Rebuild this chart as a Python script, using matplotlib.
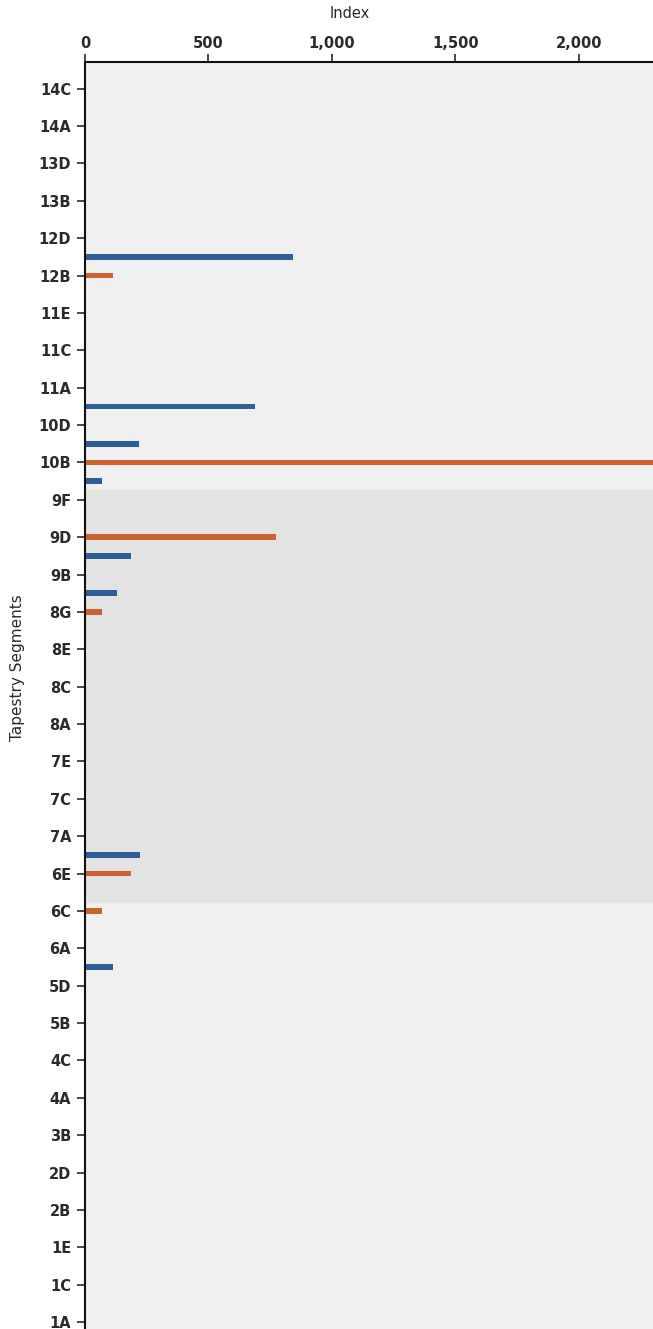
import matplotlib
matplotlib.use("Agg")
import matplotlib.pyplot as plt
from matplotlib.ticker import FuncFormatter, MultipleLocator

# Tapestry segments, bottom to top
segments = [
    "1A", "1B", "1C", "1D", "1E",
    "2A", "2B", "2C", "2D",
    "3A", "3B", "3C",
    "4A", "4B", "4C",
    "5A", "5B", "5C", "5D", "5E",
    "6A", "6B", "6C", "6D", "6E", "6F",
    "7A", "7B", "7C", "7D", "7E", "7F",
    "8A", "8B", "8C", "8D", "8E", "8F", "8G",
    "9A", "9B", "9C", "9D", "9E", "9F",
    "10A", "10B", "10C", "10D", "10E",
    "11A", "11B", "11C", "11D", "11E",
    "12A", "12B", "12C", "12D",
    "13A", "13B", "13C", "13D", "13E",
    "14A", "14B", "14C",
]

# Index values per segment for the two series
blue_index = {"12C": 842, "10E": 689, "10C": 220, "10A": 67,
              "9C": 186, "9A": 128, "6F": 222, "5E": 113}
orange_index = {"12B": 112, "10B": 2400, "9D": 774, "8G": 67,
                "6E": 186, "6C": 69}

# Highlighted span of segments
band_start, band_end = "6D", "9F"

x_max = 2300
blue_color = "#2c5e98"
orange_color = "#cd6230"
text_color = "#2a2a2a"

W, H = 653, 1329
fig = plt.figure(figsize=(W / 100, H / 100), dpi=100)
left_px, top_px = 85, 62
cat_px = 18.69
y_top_cat = 88.6  # pixel row of the top segment
ax = fig.add_axes([left_px / W, 0, 1 - left_px / W, 1 - top_px / H])

pos = {s: i for i, s in enumerate(segments)}
n = len(segments)
ytop = (n - 1) + (y_top_cat - top_px) / cat_px
ybot = (n - 1) - (H - y_top_cat) / cat_px

ax.set_facecolor("#efefef")
ax.axhspan(pos[band_start] - 0.5, pos[band_end] + 0.5, color="#e3e3e3", zorder=0)

bar_h = 0.3
ax.barh([pos[s] for s in blue_index], list(blue_index.values()),
        height=bar_h, color=blue_color, zorder=2)
ax.barh([pos[s] for s in orange_index], list(orange_index.values()),
        height=bar_h, color=orange_color, zorder=2)

ax.set_xlim(0, x_max)
ax.set_ylim(ybot, ytop)

ax.xaxis.tick_top()
ax.xaxis.set_major_locator(MultipleLocator(500))
ax.xaxis.set_major_formatter(FuncFormatter(lambda v, p: f"{int(v):,}"))

ax.set_yticks(range(0, n, 2))
ax.set_yticklabels(segments[0::2])

ax.tick_params(axis="x", length=6, width=1.2, colors=text_color, labelsize=10.5, pad=2)
ax.tick_params(axis="y", length=6, width=1.2, colors=text_color, labelsize=10.5, pad=4)
for lab in ax.get_xticklabels() + ax.get_yticklabels():
    lab.set_fontweight("bold")

# Axis titles
fig.text(350 / W, 1 - 14 / H, "Index", ha="center", va="center",
         fontsize=10.5, color=text_color)
fig.text(18 / W, 1 - 668 / H, "Tapestry Segments", ha="center", va="center",
         rotation=90, fontsize=11, color=text_color)

for side in ("right", "bottom"):
    ax.spines[side].set_visible(False)
for side in ("left", "top"):
    ax.spines[side].set_linewidth(1.5)
    ax.spines[side].set_color("#111111")

fig.savefig("out.png", dpi=100, facecolor="white")
